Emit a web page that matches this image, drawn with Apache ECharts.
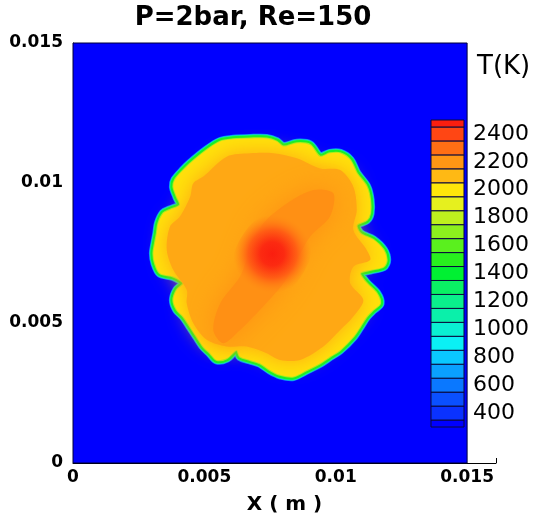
<!DOCTYPE html>
<html><head><meta charset="utf-8">
<script src="https://cdn.jsdelivr.net/npm/echarts@6/dist/echarts.min.js"></script>
<style>html,body{margin:0;padding:0;background:#fff}#c{width:539px;height:517px}</style>
</head><body><div id="c"></div>
<script>
// ---- data ----
const titleText = 'P=2bar, Re=150';
const xTicks = [0, 0.005, 0.01, 0.015];
const yTicks = [0, 0.005, 0.01, 0.015];
const domainX = [0, 0.015];
const domainY = [0, 0.015];
const levels = [300,400,500,600,700,800,900,1000,1100,1200,1300,1400,1500,1600,1700,1800,1900,2000,2100,2200,2300,2400,2500];
const levelColors = ['#0000FF','#0A32FF','#0A50FF','#0A78FF','#0AA0FF','#0AC8FF','#0AF0F5','#0AF0D2','#0AF0AA','#0AF08C','#0AF064','#00F032','#28F01E','#5AF01E','#8CF01E','#BEF01E','#E6F01E','#FFE60A','#FFB914','#FF9614','#FF6E14','#FF4614','#FA1E0F'];
const colorbarLabels = [400,600,800,1000,1200,1400,1600,1800,2000,2200,2400];
// flame front (inner edge of the fringe, ~2000 K)
const contour2000 = [[0.00446,0.01070],[0.00509,0.01118],[0.00560,0.01148],[0.00610,0.01156],[0.00674,0.01159],[0.00737,0.01159],[0.00775,0.01148],[0.00801,0.01130],[0.00852,0.01142],[0.00902,0.01136],[0.00940,0.01094],[0.00978,0.01106],[0.01017,0.01106],[0.01055,0.01082],[0.01080,0.01035],[0.01118,0.00987],[0.01131,0.00939],[0.01131,0.00892],[0.01118,0.00868],[0.01080,0.00850],[0.01093,0.00820],[0.01143,0.00797],[0.01182,0.00761],[0.01194,0.00725],[0.01182,0.00701],[0.01131,0.00689],[0.01093,0.00678],[0.01118,0.00642],[0.01156,0.00606],[0.01169,0.00570],[0.01143,0.00547],[0.01118,0.00523],[0.01093,0.00487],[0.01067,0.00451],[0.01017,0.00404],[0.00978,0.00380],[0.00940,0.00356],[0.00890,0.00332],[0.00839,0.00309],[0.00788,0.00315],[0.00750,0.00332],[0.00712,0.00356],[0.00674,0.00368],[0.00636,0.00380],[0.00623,0.00404],[0.00585,0.00374],[0.00547,0.00368],[0.00522,0.00392],[0.00496,0.00416],[0.00471,0.00451],[0.00446,0.00487],[0.00420,0.00523],[0.00395,0.00547],[0.00382,0.00582],[0.00395,0.00618],[0.00420,0.00642],[0.00382,0.00666],[0.00331,0.00678],[0.00312,0.00713],[0.00306,0.00749],[0.00312,0.00785],[0.00319,0.00820],[0.00325,0.00856],[0.00344,0.00892],[0.00369,0.00904],[0.00407,0.00921],[0.00395,0.00951],[0.00382,0.00987],[0.00388,0.01011],[0.00420,0.01046]];
const contour2150 = [[0.00496,0.01023],[0.00585,0.01094],[0.00674,0.01106],[0.00763,0.01106],[0.00852,0.01088],[0.00940,0.01052],[0.01017,0.01046],[0.01067,0.00987],[0.01080,0.00904],[0.01067,0.00832],[0.01118,0.00761],[0.01131,0.00725],[0.01067,0.00701],[0.01055,0.00642],[0.01105,0.00582],[0.01067,0.00523],[0.01017,0.00475],[0.00953,0.00416],[0.00864,0.00368],[0.00788,0.00368],[0.00737,0.00392],[0.00661,0.00416],[0.00585,0.00416],[0.00509,0.00440],[0.00458,0.00499],[0.00433,0.00570],[0.00433,0.00618],[0.00382,0.00689],[0.00357,0.00761],[0.00369,0.00844],[0.00407,0.00880],[0.00446,0.00951],[0.00458,0.00999]];
const contour2230 = [[0.00534,0.00475],[0.00560,0.00570],[0.00636,0.00666],[0.00674,0.00761],[0.00725,0.00856],[0.00814,0.00927],[0.00915,0.00975],[0.00991,0.00963],[0.00978,0.00880],[0.00902,0.00808],[0.00852,0.00725],[0.00801,0.00642],[0.00712,0.00547],[0.00636,0.00475],[0.00572,0.00428]];
// hot kernel (peak ~2500 K at the centre of this outline)
const hotZone = [[0.00610,0.00725],[0.00680,0.00855],[0.00790,0.00900],[0.00895,0.00835],[0.00900,0.00725],[0.00810,0.00605],[0.00695,0.00605]];
const hotStops = [[0, 2520], [0.3, 2470], [0.62, 2340], [1, 2240]];

// ---- rendering ----
const tMin = levels[0], tMax = levels[levels.length - 1];
const colorAt = t => echarts.color.lerp(Math.min(1, (t - tMin) / (tMax - tMin)), levelColors);
const boldFont = {fontFamily: 'DejaVu Sans', fontWeight: 'bold', color: '#000'};

function polygonSeries(points, build, z) {
  return {
    type: 'custom', coordinateSystem: 'cartesian2d', xAxisIndex: 0, yAxisIndex: 0,
    data: points, encode: {x: 0, y: 1}, z: z, silent: true, animation: false, clip: true,
    renderItem: function (params, api) {
      if (params.dataIndex !== 0) return null;
      const pts = points.map(p => api.coord(p));
      return {type: 'group', children: build(pts)};
    }
  };
}
const poly = (pts, style) => ({type: 'polygon', shape: {points: pts, smooth: 0.3}, style: style});
const soft = (pts, t, blur) => [poly(pts, {fill: colorAt(t), shadowBlur: blur, shadowColor: colorAt(t)})];
const hotFill = () => new echarts.graphic.RadialGradient(0.5, 0.5, 0.5,
  hotStops.map((s, i) => ({offset: s[0], color: i === hotStops.length - 1 ? echarts.color.modifyAlpha(colorAt(s[1]), 0) : colorAt(s[1])})));

const bands = levels.map(l => [Math.max(tMin, l - 50), Math.min(tMax, l + 50), l]);

const option = {
  backgroundColor: '#fff',
  animation: false,
  title: {text: titleText, left: 253, top: 5, textAlign: 'center', padding: 0,
    textStyle: Object.assign({fontSize: 26}, boldFont)},
  graphic: [{type: 'text', left: 477, top: 54, style: {text: 'T(K)', fontFamily: 'DejaVu Sans', fontSize: 26, fill: '#000'}}],
  grid: [
    {left: 73, top: 43, width: 423, height: 420, outerBoundsMode: 'none'},
    {left: 431, top: 120, width: 33, height: 307, outerBoundsMode: 'none'}
  ],
  xAxis: [
    {type: 'value', gridIndex: 0, min: 0, max: 0.0161,
      name: 'X ( m )', nameLocation: 'middle', nameGap: 32,
      nameTextStyle: Object.assign({fontSize: 20}, boldFont),
      axisLine: {show: true, lineStyle: {color: '#000', width: 1}},
      axisTick: {show: true, inside: true, length: 5, customValues: [0.0161], lineStyle: {color: '#000'}},
      axisLabel: Object.assign({fontSize: 17, margin: 6, customValues: xTicks}, boldFont),
      splitLine: {show: false}},
    {type: 'value', gridIndex: 1, min: 0, max: 1, show: false}
  ],
  yAxis: [
    {type: 'value', gridIndex: 0, min: domainY[0], max: domainY[1],
      name: 'Y ( m )', nameLocation: 'middle', nameGap: 40, nameRotate: 90,
      nameTextStyle: Object.assign({fontSize: 19}, boldFont),
      axisLine: {show: true, lineStyle: {color: '#000', width: 1}},
      axisTick: {show: false},
      axisLabel: Object.assign({fontSize: 17, margin: 10, customValues: yTicks}, boldFont),
      splitLine: {show: false}},
    {type: 'value', gridIndex: 1, min: tMin, max: tMax, position: 'right',
      axisLine: {show: false}, axisTick: {show: false}, splitLine: {show: false},
      axisLabel: {fontFamily: 'DejaVu Sans', fontSize: 22, color: '#000', margin: 9,
        customValues: colorbarLabels, formatter: v => String(v)}}
  ],
  series: [
    // domain background (ambient gas)
    {type: 'custom', coordinateSystem: 'cartesian2d', xAxisIndex: 0, yAxisIndex: 0,
      data: [[domainX[0], domainY[0]], [domainX[1], domainY[1]]], encode: {x: 0, y: 1}, z: 1, silent: true,
      renderItem: function (params, api) {
        if (params.dataIndex !== 0) return null;
        const a = api.coord([domainX[0], domainY[1]]), b = api.coord([domainX[1], domainY[0]]);
        return {type: 'rect', shape: {x: a[0], y: a[1], width: b[0] - a[0], height: b[1] - a[1]},
          style: {fill: colorAt(tMin), stroke: '#00003a', lineWidth: 1}};
      }},
    polygonSeries(contour2000, pts => [
      poly(pts, {fill: 'none', stroke: colorAt(650), lineWidth: 9}),
      poly(pts, {fill: 'none', stroke: colorAt(1100), lineWidth: 7.5}),
      poly(pts, {fill: 'none', stroke: colorAt(1450), lineWidth: 6}),
      poly(pts, {fill: 'none', stroke: colorAt(1750), lineWidth: 2}),
      poly(pts, {fill: colorAt(2010), stroke: 'none'})
    ], 2),
    polygonSeries(contour2150, pts => soft(pts, 2150, 20), 3),
    polygonSeries(contour2230, pts => soft(pts, 2215, 26), 4),
    polygonSeries(hotZone, pts => [poly(pts, {fill: hotFill()})], 5),
    // colour bar
    {type: 'custom', coordinateSystem: 'cartesian2d', xAxisIndex: 1, yAxisIndex: 1,
      data: bands, encode: {x: -1, y: [0, 1]}, z: 10, silent: true,
      renderItem: function (params, api) {
        const lo = api.value(0), hi = api.value(1), l = api.value(2);
        const a = api.coord([0, hi]), b = api.coord([1, lo]);
        return {type: 'rect', shape: {x: a[0], y: a[1], width: b[0] - a[0], height: b[1] - a[1]},
          style: {fill: colorAt(l), stroke: '#0a0a3c', lineWidth: 1}};
      }}
  ]
};
const chart = echarts.init(document.getElementById('c'), null, {renderer: 'canvas'});
chart.setOption(option);
</script>
</body></html>
